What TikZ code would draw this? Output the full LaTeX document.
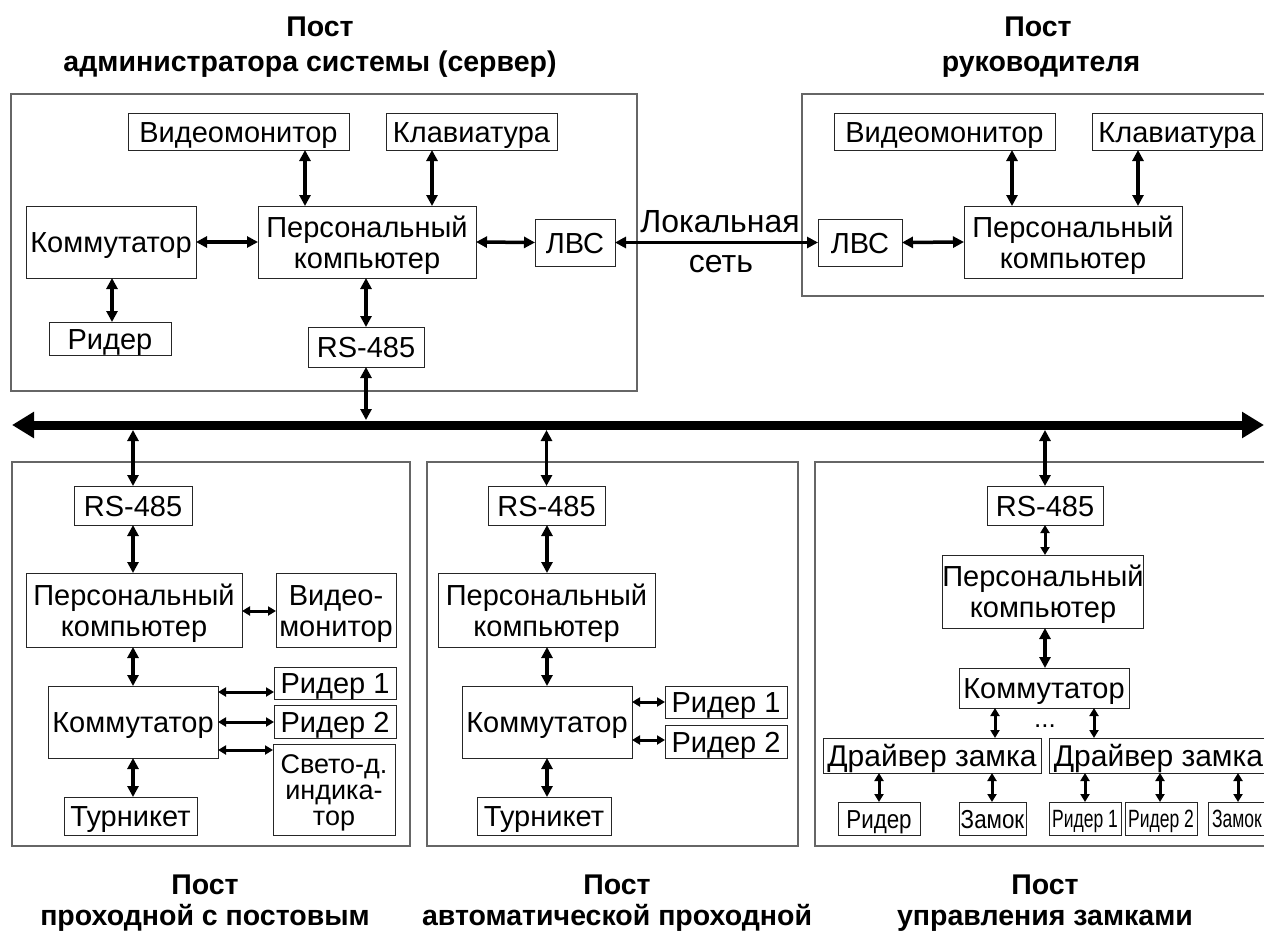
\documentclass[tikz,border=0pt]{standalone}
\usepackage{fontspec}
\setmainfont{Liberation Sans}
\newfontfamily\narrowfont[FakeStretch=0.7]{Liberation Sans}
\newfontfamily\semifont[FakeStretch=0.86]{Liberation Sans}
\usetikzlibrary{arrows.meta}
\newcommand\fsz[2]{\fontsize{#1}{#2}\selectfont}
\newcommand\tw[2]{\begin{tabular}[t]{@{}c@{}}#1\\#2\end{tabular}}
\newcommand\bx[7][]{\node[box,#1,minimum width={(#5-#3)*1pt},minimum height={(#6-#4)*1pt}] (#2) at ({(#3+#5)/2},{(#4+#6)/2}) {#7};}
\tikzset{
 box/.style={draw=black!85,line width=1pt,inner sep=0pt,outer sep=0pt,font=\fsz{29}{31},text height=21pt,text depth=0pt},
 two/.style={text depth=31pt},
 frame/.style={draw=black!60,line width=1.5pt},
 arr/.style={line width=3.5pt,{Triangle[length=11pt,width=11pt]}-{Triangle[length=11pt,width=11pt]}},
 sarr/.style={line width=3pt,{Triangle[length=8pt,width=9pt]}-{Triangle[length=8pt,width=9pt]}},
 busline/.style={line width=9pt,{Triangle[length=22pt,width=25pt]}-{Triangle[length=22pt,width=25pt]}},
 ttl/.style={font=\bfseries\fsz{28.5}{34},anchor=base,inner sep=0pt},
 lbl/.style={font=\fsz{32}{34},anchor=base,inner sep=0pt},
 narrowbox/.style={font=\narrowfont\fsz{25}{26},text height=18pt},
 semibox/.style={font=\semifont\fsz{26}{27},text height=19pt},
}
\begin{document}
\begin{tikzpicture}[x=1pt,y=-1pt]
\clip (0,0) rectangle (1264,934);
\fill[white] (0,0) rectangle (1264,934);

% titles
\node[ttl] (t1a) at (320,37) {Пост};
\node[ttl] (t1b) at (310,71) {администратора системы (сервер)};
\node[ttl] (t2a) at (1038,37) {Пост};
\node[ttl] (t2b) at (1041,71) {руководителя};
\node[ttl] (t3a) at (205,894) {Пост};
\node[ttl] (t3b) at (205,925) {проходной с постовым};
\node[ttl] (t4a) at (617,894) {Пост};
\node[ttl] (t4b) at (617,925) {автоматической проходной};
\node[ttl] (t5a) at (1045,894) {Пост};
\node[ttl] (t5b) at (1045,925) {управления замками};

% frames
\draw[frame] (11,94) rectangle (637,391);
\draw[frame] (802,94) rectangle (1272,296);
\draw[frame] (12,462) rectangle (410,846);
\draw[frame] (427,462) rectangle (798,846);
\draw[frame] (815,462) rectangle (1272,846);

% admin post
\bx{avm}{128}{113}{349}{150}{Видеомонитор}
\bx{akb}{386}{113}{557}{150}{Клавиатура}
\bx{akm}{26}{206}{196}{278}{Коммутатор}
\bx[two]{apc}{258}{206}{476}{278}{\tw{Персональный}{компьютер}}
\bx{alan}{535}{219}{615}{266}{ЛВС}
\bx{ard}{49}{322}{171}{355}{Ридер}
\bx{ars}{308}{327}{424}{367}{RS-485}

% manager post
\bx{mvm}{834}{113}{1055}{150}{Видеомонитор}
\bx{mkb}{1092}{113}{1262}{150}{Клавиатура}
\bx{mlan}{818}{219}{902}{266}{ЛВС}
\bx[two]{mpc}{964}{206}{1182}{278}{\tw{Персональный}{компьютер}}

% bus
\coordinate (busL) at (12,425);
\coordinate (busR) at (1264,425);
\coordinate (bt) at (0,420);
\coordinate (bb) at (0,430);
\draw[busline] (busL) -- (busR);

% post with guard
\bx{lrs}{74}{486}{192}{525}{RS-485}
\bx[two]{lpc}{26}{573}{242}{647}{\tw{Персональный}{компьютер}}
\bx[two]{lvm}{276}{573}{396}{647}{\tw{Видео-}{монитор}}
\bx{lkm}{48}{686}{218}{758}{Коммутатор}
\bx{lr1}{274}{667}{396}{699}{Ридер 1}
\bx{lr2}{274}{705}{396}{738}{Ридер 2}
\bx[font=\fsz{27}{26},text height=19.5pt,text depth=52pt]{lsd}{273}{744}{395}{835}{\begin{tabular}[t]{@{}c@{}}Свето-д.\\индика-\\тор\end{tabular}}
\bx{ltn}{64}{797}{197}{835}{Турникет}

% automatic post
\bx{crs}{488}{486}{605}{525}{RS-485}
\bx[two]{cpc}{438}{573}{655}{647}{\tw{Персональный}{компьютер}}
\bx{ckm}{462}{686}{632}{758}{Коммутатор}
\bx{cr1}{665}{686}{787}{718}{Ридер 1}
\bx{cr2}{665}{725}{787}{758}{Ридер 2}
\bx{ctn}{477}{797}{611}{835}{Турникет}

% lock post
\bx{rrs}{987}{486}{1103}{525}{RS-485}
\bx[two]{rpc}{944}{555}{1142}{628}{\tw{Персональный}{компьютер}}
\bx{rkm}{959}{668}{1129}{708}{Коммутатор}
\bx[font=\fsz{30}{31},text height=22pt]{rd1}{823}{738}{1041}{773}{Драйвер замка}
\bx[font=\fsz{30}{31},text height=22pt]{rd2}{1049}{738}{1268}{773}{Драйвер замка}
\bx[semibox]{rr0}{838}{802}{920}{835}{Ридер}
\bx[semibox]{rz0}{959}{802}{1026}{835}{Замок}
\bx[narrowbox]{rr1}{1049}{802}{1121}{835}{Ридер 1}
\bx[narrowbox]{rr2}{1125}{802}{1197}{835}{Ридер 2}
\bx[narrowbox]{rz1}{1208}{802}{1266}{835}{Замок}
\node[font=\fsz{26}{26},inner sep=0pt,anchor=base] (dots) at (1045,727) {...};

% LAN
\draw[arr] (alan.east) -- (mlan.west);
\node[lbl] (lan1) at (720,232) {Локальная};
\node[lbl] (lan2) at (721,272) {сеть};

% admin connectors
\draw[arr] (avm.south -| 305,0) -- (apc.north -| 305,0);
\draw[arr] (akb.south -| 432,0) -- (apc.north -| 432,0);
\draw[arr] (akm.east) -- (apc.west);
\draw[arr] (apc.east) -- (alan.west);
\draw[arr] (akm.south -| 112,0) -- (ard.north -| 112,0);
\draw[arr] (apc.south -| 366,0) -- (ars.north -| 366,0);
\draw[arr] (ars.south) -- (ars.south |- bt);

% manager connectors
\draw[arr] (mvm.south -| 1012,0) -- (mpc.north -| 1012,0);
\draw[arr] (mkb.south -| 1138,0) -- (mpc.north -| 1138,0);
\draw[arr] (mlan.east) -- (mpc.west);

% guard post connectors
\draw[arr] (lrs.north |- bb) -- (lrs.north);
\draw[arr] (lrs.south -| 133,0) -- (lpc.north -| 133,0);
\draw[arr] (lpc.south -| 133,0) -- (lkm.north -| 133,0);
\draw[arr] (lkm.south -| 133,0) -- (ltn.north -| 133,0);
\draw[sarr] (lpc.east |- 0,611) -- (lvm.west |- 0,611);
\draw[sarr] (lkm.east |- 0,692) -- (lr1.west |- 0,692);
\draw[sarr] (lkm.east |- 0,722) -- (lr2.west |- 0,722);
\draw[sarr] (lkm.east |- 0,750) -- (lsd.west |- 0,750);

% automatic post connectors
\draw[arr] (crs.north |- bb) -- (crs.north);
\draw[arr] (crs.south -| 547,0) -- (cpc.north -| 547,0);
\draw[arr] (cpc.south -| 547,0) -- (ckm.north -| 547,0);
\draw[arr] (ckm.south -| 547,0) -- (ctn.north -| 547,0);
\draw[sarr] (ckm.east |- 0,702) -- (cr1.west |- 0,702);
\draw[sarr] (ckm.east |- 0,740) -- (cr2.west |- 0,740);

% lock post connectors
\draw[arr] (rrs.north |- bb) -- (rrs.north);
\draw[sarr] (rrs.south -| 1045,0) -- (rpc.north -| 1045,0);
\draw[arr] (rpc.south -| 1045,0) -- (rkm.north -| 1045,0);
\draw[sarr] (rkm.south -| 995,0) -- (rd1.north -| 995,0);
\draw[sarr] (rkm.south -| 1094,0) -- (rd2.north -| 1094,0);
\draw[sarr] (rd1.south -| 879,0) -- (rr0.north -| 879,0);
\draw[sarr] (rd1.south -| 992,0) -- (rz0.north -| 992,0);
\draw[sarr] (rd2.south -| 1085,0) -- (rr1.north -| 1085,0);
\draw[sarr] (rd2.south -| 1160,0) -- (rr2.north -| 1160,0);
\draw[sarr] (rd2.south -| 1238,0) -- (rz1.north -| 1238,0);
\end{tikzpicture}
\end{document}
